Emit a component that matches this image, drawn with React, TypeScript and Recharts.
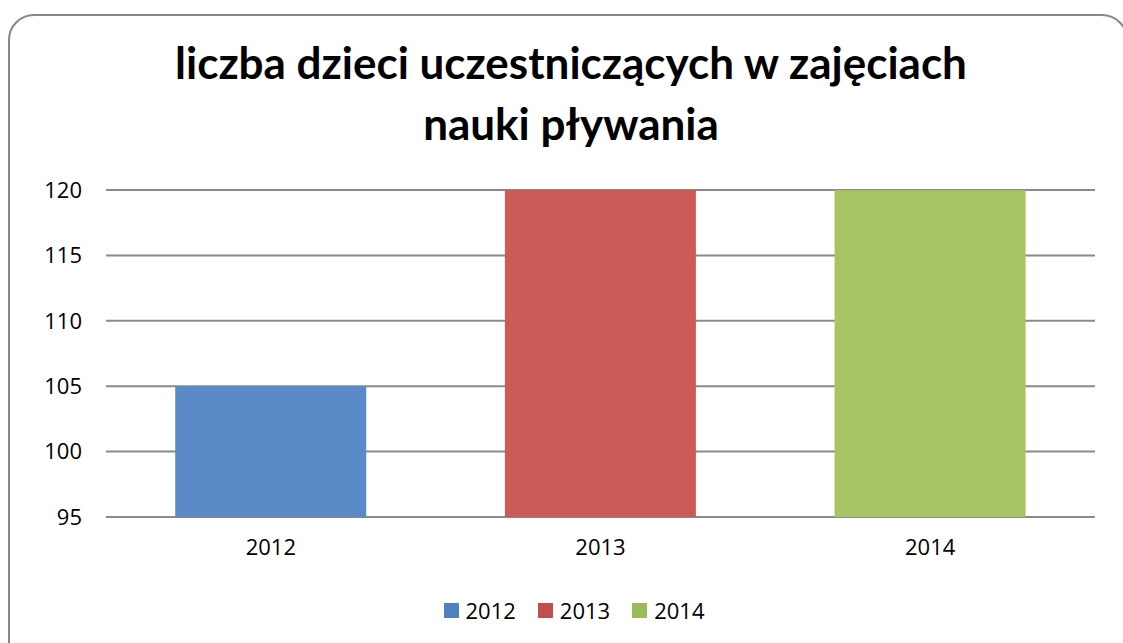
import { BarChart, Bar, XAxis, YAxis, CartesianGrid, Cell } from "recharts"

const years = ["2012", "2013", "2014"]
const childCounts = [105, 120, 120]
const barColors = ["#5A8AC7", "#CC5B57", "#A6C464"]
const legendColors = ["#4F81BD", "#C0504D", "#9BBB59"]
const yTicks = [95, 100, 105, 110, 115, 120]
const titleLines = ["liczba dzieci uczestniczących w zajęciach", "nauki pływania"]

const data = years.map((year, i) => ({ year, value: childCounts[i] }))

const titleFont = "Lato, 'Open Sans', sans-serif"
const font = "'Open Sans', Lato, sans-serif"

export default function App() {
  return (
    <div style={{ position: "absolute", left: 0, top: 0, width: 1123, height: 643, overflow: "hidden", background: "#fff", fontFamily: font }}>
      <div
        style={{
          position: "absolute",
          left: 8,
          top: 14,
          width: 1120,
          height: 660,
          border: "2px solid #878787",
          borderRadius: 26,
          boxSizing: "border-box",
        }}
      />

      <div style={{ position: "absolute", left: 0, top: 32, width: 1142, textAlign: "center", fontFamily: titleFont, fontWeight: 700, fontSize: 44, lineHeight: "61px", color: "#000" }}>
        {titleLines.map((line) => (
          <div key={line}>{line}</div>
        ))}
      </div>

      <div style={{ position: "absolute", left: 0, top: 0 }}>
        <BarChart width={1123} height={643} data={data} margin={{ top: 190, right: 28, bottom: 86, left: 46 }} barCategoryGap="21%">
          <CartesianGrid vertical={false} stroke="#8a8a8a" strokeWidth={2} />
          <XAxis
            dataKey="year"
            axisLine={false}
            tickLine={false}
            tickSize={0}
            tickMargin={22}
            height={40}
            tick={{ fill: "#000", fontSize: 22, fontFamily: font }}
          />
          <YAxis
            domain={[95, 120]}
            ticks={yTicks}
            allowDataOverflow
            axisLine={false}
            tickLine={false}
            tickSize={0}
            tickMargin={24}
            width={60}
            tick={{ fill: "#000", fontSize: 22, fontFamily: font }}
          />
          <Bar dataKey="value" isAnimationActive={false}>
            {data.map((d, i) => (
              <Cell key={d.year} fill={barColors[i]} />
            ))}
          </Bar>
        </BarChart>
      </div>

      <div style={{ position: "absolute", left: 0, top: 595, width: 1148, display: "flex", justifyContent: "center", gap: 22, fontSize: 22, color: "#000" }}>
        {years.map((year, i) => (
          <div key={year} style={{ display: "flex", alignItems: "center", gap: 7 }}>
            <span style={{ display: "inline-block", width: 15, height: 15, background: legendColors[i] }} />
            <span>{year}</span>
          </div>
        ))}
      </div>
    </div>
  )
}
